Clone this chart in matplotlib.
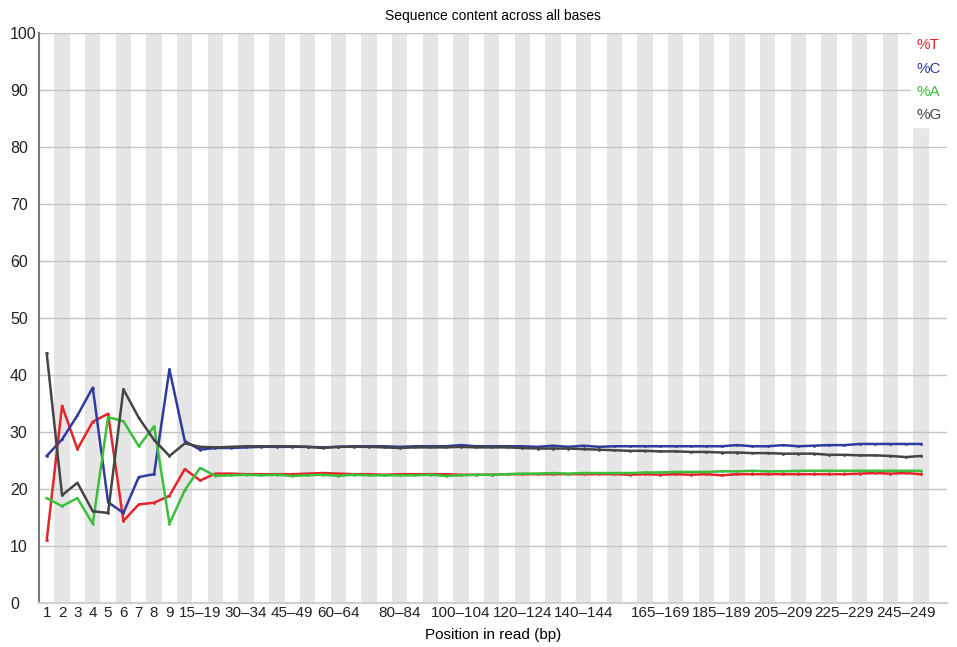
import numpy as np
import matplotlib.pyplot as plt

plt.rcParams['font.family'] = ['Liberation Sans', 'DejaVu Sans']

# base groups along the read (FastQC linear grouping)
groups = [str(i) for i in range(1, 10)] + ['%d-%d' % (s, s + 4) for s in range(10, 250, 5)] + ['250-251']

shown_labels = ['1', '2', '3', '4', '5', '6', '7', '8', '9', '15-19', '30-34', '45-49', '60-64',
                '80-84', '100-104', '120-124', '140-144', '165-169', '185-189', '205-209',
                '225-229', '245-249']

pct_t = [11.0, 34.6, 27.0, 31.8, 33.2, 14.4, 17.3, 17.6, 18.8, 23.5, 21.5, 22.7,
         22.7, 22.6, 22.6, 22.6, 22.6, 22.7, 22.8, 22.7, 22.6, 22.6, 22.5, 22.6,
         22.6, 22.6, 22.6, 22.5, 22.5, 22.5, 22.6, 22.6, 22.6, 22.6, 22.6, 22.6,
         22.6, 22.6, 22.5, 22.6, 22.5, 22.6, 22.5, 22.6, 22.4, 22.6, 22.6, 22.6,
         22.6, 22.6, 22.6, 22.6, 22.6, 22.7, 22.8, 22.7, 22.8, 22.6]
pct_c = [25.8, 28.7, 32.9, 37.8, 17.7, 15.8, 22.1, 22.6, 41.0, 28.4, 26.9, 27.2,
         27.2, 27.3, 27.4, 27.4, 27.4, 27.4, 27.3, 27.4, 27.5, 27.5, 27.5, 27.4,
         27.5, 27.5, 27.5, 27.7, 27.5, 27.5, 27.5, 27.5, 27.4, 27.6, 27.4, 27.6,
         27.4, 27.5, 27.5, 27.5, 27.5, 27.5, 27.5, 27.5, 27.5, 27.7, 27.5, 27.5,
         27.7, 27.5, 27.6, 27.7, 27.7, 27.9, 27.9, 27.9, 27.9, 27.9]
pct_a = [18.4, 17.0, 18.4, 13.9, 32.6, 31.9, 27.5, 31.0, 13.9, 19.8, 23.7, 22.3,
         22.4, 22.5, 22.4, 22.5, 22.3, 22.4, 22.5, 22.3, 22.5, 22.4, 22.4, 22.4,
         22.4, 22.5, 22.3, 22.4, 22.5, 22.5, 22.6, 22.7, 22.7, 22.8, 22.7, 22.8,
         22.8, 22.8, 22.8, 22.9, 22.9, 23.0, 23.0, 23.0, 23.1, 23.1, 23.2, 23.1,
         23.1, 23.2, 23.2, 23.2, 23.2, 23.2, 23.2, 23.2, 23.2, 23.2]
pct_g = [43.8, 18.9, 21.1, 16.1, 15.8, 37.5, 32.5, 28.6, 25.8, 28.0, 27.4, 27.3,
         27.4, 27.5, 27.5, 27.5, 27.5, 27.4, 27.2, 27.4, 27.4, 27.4, 27.3, 27.2,
         27.3, 27.3, 27.3, 27.4, 27.3, 27.3, 27.3, 27.2, 27.1, 27.1, 27.1, 27.0,
         26.9, 26.8, 26.7, 26.7, 26.6, 26.6, 26.5, 26.5, 26.4, 26.4, 26.3, 26.3,
         26.2, 26.2, 26.2, 26.0, 26.0, 25.9, 25.9, 25.8, 25.6, 25.8]

series = [('%T', pct_t, '#e3262b'), ('%C', pct_c, '#2f3c9e'),
          ('%A', pct_a, '#3cbf3c'), ('%G', pct_g, '#454545')]

fig = plt.figure(figsize=(9.57, 6.47), dpi=100)
ax = fig.add_axes([0.0408, 0.068, 0.949, 0.881])

x = np.arange(len(groups))

# alternating grey bands behind every second base group
for i in x:
    if i % 2 == 1:
        ax.axvspan(i - 0.5, i + 0.5, color='#e6e6e6', lw=0, zorder=0)

for yv in range(10, 101, 10):
    ax.axhline(yv, color='#c4c4c4', lw=1.0, zorder=1)

for name, vals, col in series:
    ax.plot(x, vals, color=col, lw=1.8, label=name, zorder=3,
            marker='o', markersize=1.0)

ax.set_xlim(-0.5, len(groups) + 0.7)
ax.set_ylim(0, 100)
ax.set_yticks(range(0, 101, 10))
ax.tick_params(axis='y', length=0, pad=21, labelsize=11.5, labelcolor='#222222')
for lab in ax.get_yticklabels():
    lab.set_horizontalalignment('left')

ax.set_xticks([groups.index(l) for l in shown_labels])
ax.set_xticklabels([l.replace('-', '\u2013') for l in shown_labels], fontsize=11)
ax.tick_params(axis='x', length=0, pad=2, labelcolor='#222222')

for side in ['top', 'right']:
    ax.spines[side].set_visible(False)
ax.spines['left'].set_color('#777777')
ax.spines['left'].set_linewidth(1.5)
ax.spines['bottom'].set_color('#d0d0d0')
ax.spines['bottom'].set_linewidth(1.5)

ax.set_title('Sequence content across all bases', fontsize=10, pad=9)
ax.set_xlabel('Position in read (bp)', fontsize=11, labelpad=6)

leg = ax.legend(loc='upper right', handlelength=0, handletextpad=0, labelcolor='linecolor',
                fontsize=11, frameon=True, fancybox=False, borderaxespad=0.0,
                labelspacing=0.6, borderpad=0.35)
for h in leg.legend_handles:
    h.set_visible(False)
leg.get_frame().set_facecolor('white')
leg.get_frame().set_edgecolor('white')
leg.get_frame().set_alpha(1)

fig.savefig('out.png', dpi=100)
